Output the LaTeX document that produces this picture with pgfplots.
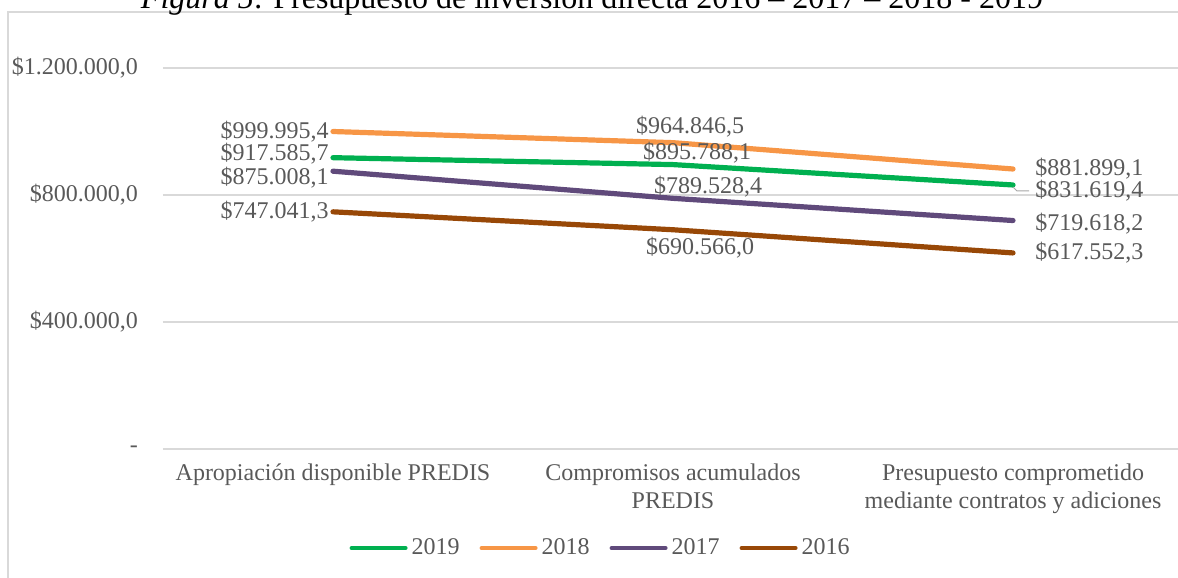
\documentclass[border=0pt]{standalone}
\usepackage{fontspec}
\setmainfont{Liberation Serif}
\usepackage{pgfplots}
\pgfplotsset{compat=1.18}

\definecolor{txt}{HTML}{595959}
\definecolor{gridc}{HTML}{D9D9D9}
\definecolor{c2019}{HTML}{00B050}
\definecolor{c2018}{HTML}{F79646}
\definecolor{c2017}{HTML}{604A7B}
\definecolor{c2016}{HTML}{984807}

\begin{document}
\begin{tikzpicture}
  \draw[gridc, line width=1pt] (4pt,-6pt) rectangle (640pt,-330pt);
  \node[anchor=base, font=\fontsize{16}{18}\selectfont] at (296pt,-4.5pt)
    {\textit{Figura 5}: Presupuesto de inversión directa 2016 – 2017 – 2018 - 2019};
  \begin{axis}[
      at={(81.5pt,-224.5pt)}, anchor=south west,
      scale only axis, width=510pt, height=190.5pt,
      xmin=-0.5, xmax=2.5, ymin=0, ymax=1200000,
      scaled y ticks=false,
      axis y line*=left, axis x line*=bottom,
      y axis line style={draw=none},
      x axis line style={gridc, line width=0.8pt},
      major tick length=0pt,
      xtick={0,1,2},
      xticklabels={{Apropiación disponible PREDIS},
                   {Compromisos acumulados\\PREDIS},
                   {Presupuesto comprometido\\mediante contratos y adiciones}},
      ytick={0,400000,800000,1200000},
      yticklabels={-,\$400.000{,}0,\$800.000{,}0,\$1.200.000{,}0},
      ymajorgrids, grid style={gridc, line width=0.8pt},
      tick label style={font=\fontsize{12}{14}\selectfont, text=txt},
      xticklabel style={align=center, yshift=-4pt},
      yticklabel style={xshift=-9pt},
      legend style={at={(0.43,-0.26)}, anchor=center, draw=none,
        font=\fontsize{12}{14}\selectfont, text=txt, inner sep=0pt,
        /tikz/every even column/.append style={column sep=8pt}},
      legend columns=4,
      legend cell align=left,
      legend image code/.code={\draw[#1, line width=2pt, line cap=round] (0pt,0pt) -- (27pt,0pt);},
      every axis plot/.append style={line width=2.6pt, line cap=round, line join=round},
      clip=false,
    ]
    \addplot[c2019] coordinates {(0,917585.7) (1,895788.1) (2,831619.4)};
    \addplot[c2018] coordinates {(0,999995.4) (1,964846.5) (2,881899.1)};
    \addplot[c2017] coordinates {(0,875008.1) (1,789528.4) (2,719618.2)};
    \addplot[c2016] coordinates {(0,747041.3) (1,690566.0) (2,617552.3)};
    \legend{2019,2018,2017,2016}

    \begin{scope}[every node/.style={font=\fontsize{12}{14}\selectfont, text=txt, inner sep=0pt}]
      % first category, labels to the left
      \node[anchor=east, xshift=-2pt] at (axis cs:0,999995.4) {\$999.995,4};
      \node[anchor=east, xshift=-2pt, yshift=2pt] at (axis cs:0,917585.7) {\$917.585,7};
      \node[anchor=east, xshift=-2pt, yshift=-3pt] at (axis cs:0,875008.1) {\$875.008,1};
      \node[anchor=east, xshift=-2pt] at (axis cs:0,747041.3) {\$747.041,3};
      % second category
      \node[xshift=8.5pt, yshift=8pt] at (axis cs:1,964846.5) {\$964.846,5};
      \node[xshift=12pt, yshift=5.8pt] at (axis cs:1,895788.1) {\$895.788,1};
      \node[xshift=17.5pt, yshift=6pt] at (axis cs:1,789528.4) {\$789.528,4};
      \node[xshift=13.5pt, yshift=-9pt] at (axis cs:1,690566.0) {\$690.566,0};
      % third category, labels to the right
      \node[anchor=west, xshift=11pt] at (axis cs:2,881899.1) {\$881.899,1};
      \node[anchor=west, xshift=11pt, yshift=-3pt] at (axis cs:2,831619.4) {\$831.619,4};
      \node[anchor=west, xshift=11pt, yshift=-1.7pt] at (axis cs:2,719618.2) {\$719.618,2};
      \node[anchor=west, xshift=11pt] at (axis cs:2,617552.3) {\$617.552,3};
    \end{scope}
    \draw[gray!70, line width=0.5pt] (axis cs:2,831619.4) ++(0pt,-1pt) -- ++(2pt,-2pt) -- ++(6pt,0pt);
  \end{axis}
  \pgfresetboundingbox
  \useasboundingbox (0pt,0pt) rectangle (589pt,-289pt);
\end{tikzpicture}
\end{document}
